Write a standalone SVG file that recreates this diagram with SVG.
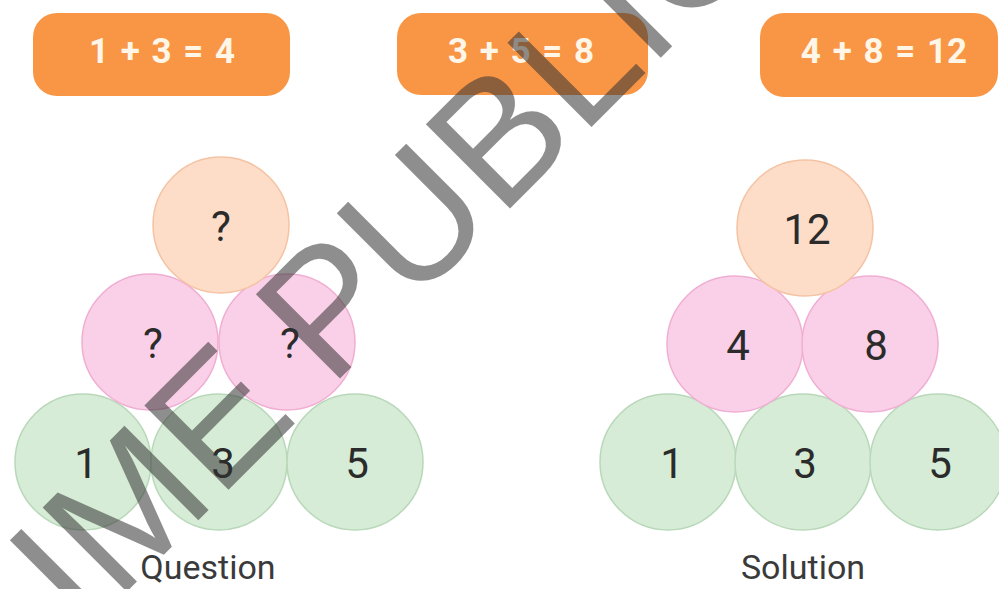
<svg xmlns="http://www.w3.org/2000/svg" width="999" height="589" viewBox="0 0 999 589">
<style>
.box{fill:#F89646;}
.eq{font-family:Roboto,"Liberation Sans",sans-serif;font-weight:bold;font-size:35px;fill:#FFF6E8;text-anchor:middle;word-spacing:3px;}
.peach{fill:#FDDDC8;stroke:#F4C3A3;stroke-width:1.5;}
.pink{fill:#FAD0E8;stroke:#F0AED2;stroke-width:1.5;}
.green{fill:#D6ECD6;stroke:#B8D8B9;stroke-width:1.5;}
.num{font-family:Roboto,"Liberation Sans",sans-serif;font-size:42px;fill:#2B2B2B;text-anchor:middle;}
.cap{font-family:Roboto,"Liberation Sans",sans-serif;font-size:34px;fill:#3A3A3A;text-anchor:middle;}
.wm{font-family:"Liberation Sans",Arial,sans-serif;font-size:173px;fill:#333333;opacity:0.55;word-spacing:-6px;}
</style>
<g id="eq1"><rect class="box" x="33" y="13" width="257" height="83" rx="24"/><text class="eq" x="162" y="63">1 + 3 = 4</text></g>
<g id="eq2"><rect class="box" x="397" y="13" width="251" height="82" rx="24"/><text class="eq" x="521" y="63">3 + 5 = 8</text></g>
<g id="eq3"><rect class="box" x="760" y="13" width="238" height="84" rx="24"/><text class="eq" x="884" y="63">4 + 8 = 12</text></g>

<g id="question">
<g id="q-g1"><circle class="green" cx="83" cy="462" r="68"/><text class="num" x="86" y="478">1</text></g>
<g id="q-g3"><circle class="green" cx="219" cy="462" r="68"/><text class="num" x="223" y="478">3</text></g>
<g id="q-g5"><circle class="green" cx="355" cy="462" r="68"/><text class="num" x="357" y="478">5</text></g>
<g id="q-p1"><circle class="pink" cx="150" cy="342" r="68"/><text class="num" x="153" y="358">?</text></g>
<g id="q-p2"><circle class="pink" cx="287" cy="342" r="68"/><text class="num" x="290" y="358">?</text></g>
<g id="q-top"><circle class="peach" cx="221" cy="225" r="68"/><text class="num" x="221" y="241">?</text></g>
<text class="cap" x="208" y="579">Question</text>
</g>

<g id="solution">
<g id="s-g1"><circle class="green" cx="668" cy="462" r="68"/><text class="num" x="672" y="478">1</text></g>
<g id="s-g3"><circle class="green" cx="803" cy="462" r="68"/><text class="num" x="805" y="478">3</text></g>
<g id="s-g5"><circle class="green" cx="938" cy="462" r="68"/><text class="num" x="940" y="478">5</text></g>
<g id="s-p4"><circle class="pink" cx="735" cy="344" r="68"/><text class="num" x="738" y="360">4</text></g>
<g id="s-p8"><circle class="pink" cx="870" cy="344" r="68"/><text class="num" x="876" y="360">8</text></g>
<g id="s-top"><circle class="peach" cx="805" cy="228" r="68"/><text class="num" x="807" y="244">12</text></g>
<text class="cap" x="803" y="579">Solution</text>
</g>

<g id="connectors"></g>

<text class="wm" transform="rotate(-45)" x="-391" y="508">IME PUBLIC</text>
</svg>
